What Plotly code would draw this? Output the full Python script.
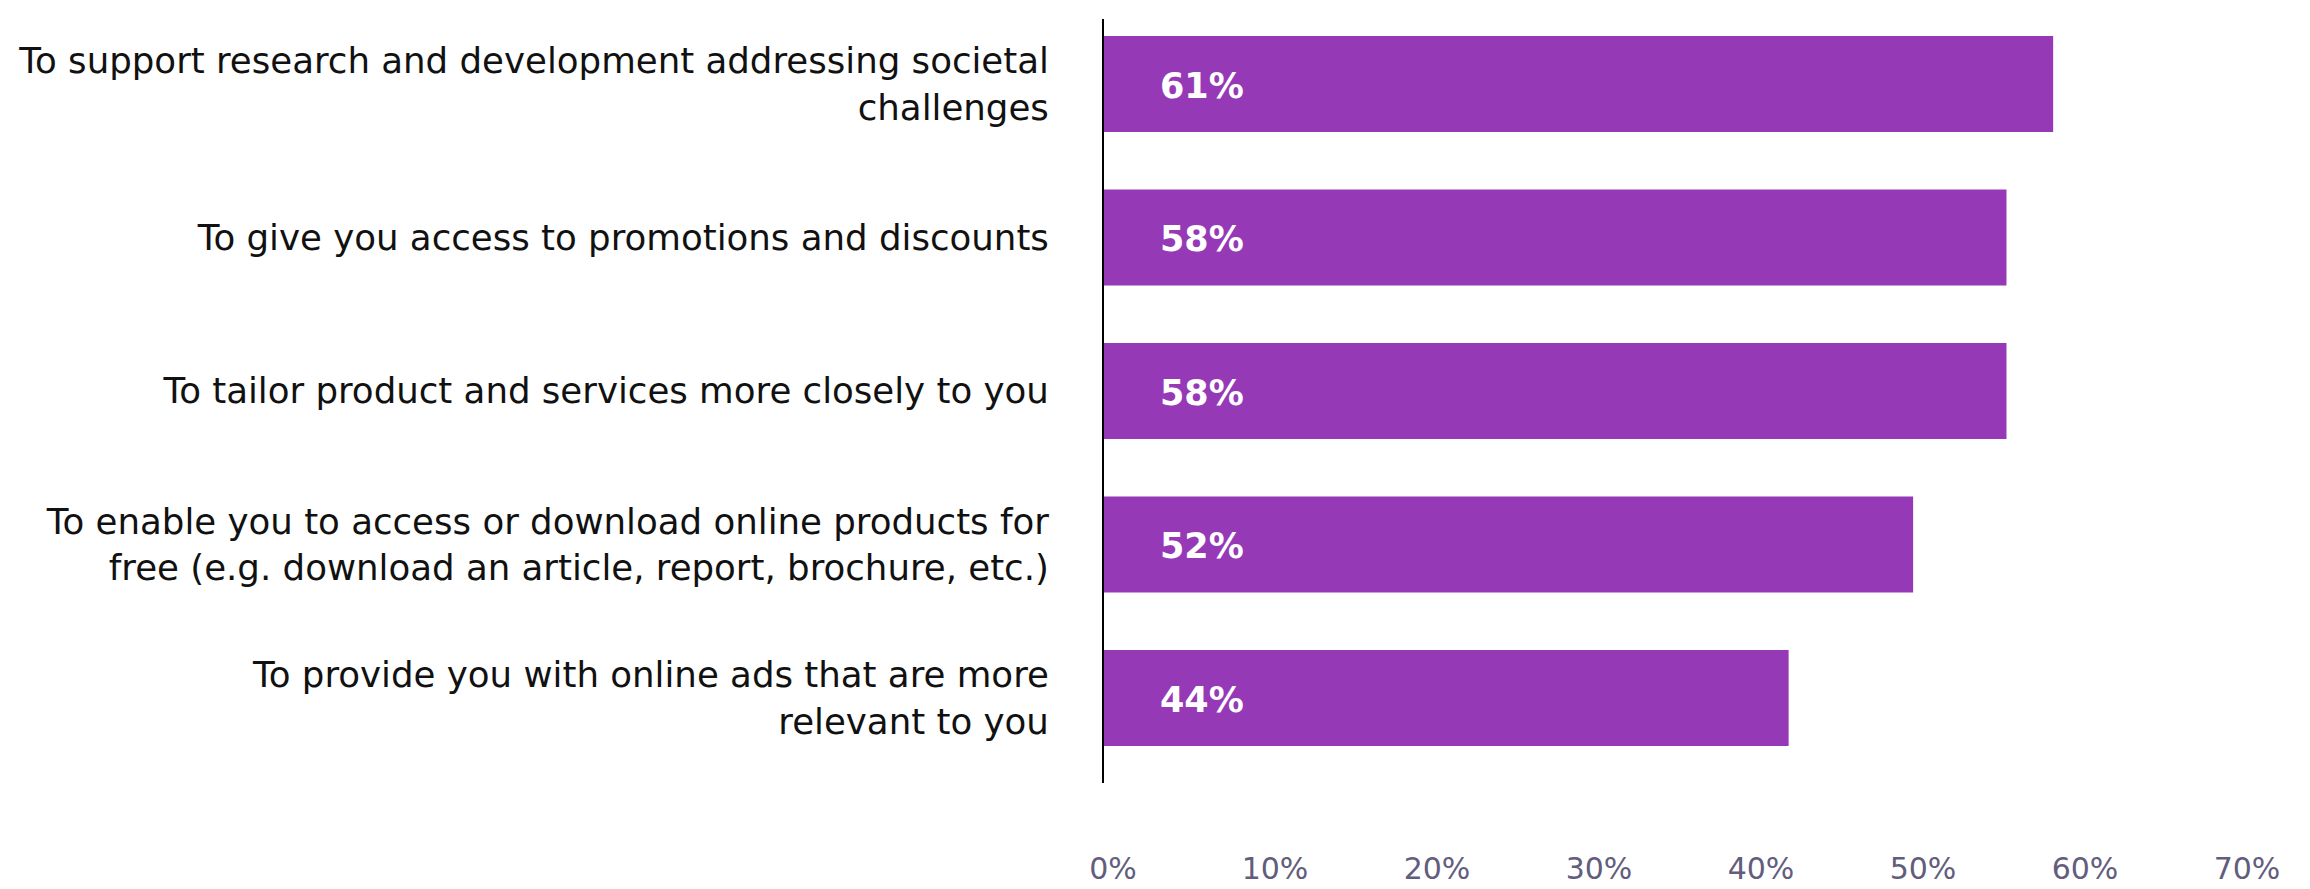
import plotly.graph_objects as go

# Reasons for sharing data, shown top to bottom
categories = [
    "To support research and development addressing societal<br>challenges",
    "To give you access to promotions and discounts",
    "To tailor product and services more closely to you",
    "To enable you to access or download online products for<br>free (e.g. download an article, report, brochure, etc.)",
    "To provide you with online ads that are more<br>relevant to you",
]
values = [61, 58, 58, 52, 44]
tick_values = [0, 10, 20, 30, 40, 50, 60, 70]
tick_labels = ["0%", "10%", "20%", "30%", "40%", "50%", "60%", "70%"]

BAR_COLOR = "#9639B7"
TEXT_FONT = "DejaVu Sans"

fig = go.Figure()
fig.add_trace(go.Bar(
    x=values,
    y=categories,
    orientation="h",
    width=0.625,
    marker=dict(color=BAR_COLOR, line=dict(width=0)),
    hoverinfo="skip",
    showlegend=False,
))
# empty trace so the scale axis below is drawn
fig.add_trace(go.Scatter(x=[], y=[], xaxis="x2", yaxis="y", showlegend=False))

# value labels inside the bars, near the base
for cat, v in zip(categories, values):
    fig.add_annotation(
        x=0, y=cat, xref="x", yref="y",
        text=f"<b>{v}%</b>", showarrow=False,
        xanchor="left", yanchor="middle", xshift=54, yshift=-2,
        font=dict(family=TEXT_FONT, size=35, color="white"),
    )

fig.update_layout(
    width=2310, height=889,
    margin=dict(l=1104, r=39, t=19, b=106, autoexpand=False),
    paper_bgcolor="white", plot_bgcolor="white",
    bargap=0.375,
    xaxis=dict(
        range=[0, 75], showticklabels=False, showgrid=False,
        zeroline=False, showline=False, ticks="", automargin=False,
    ),
    xaxis2=dict(
        overlaying="x", anchor="y", side="bottom",
        range=[-0.556, 71.48], tickvals=tick_values, ticktext=tick_labels,
        showgrid=False, zeroline=False, showline=False, ticks="",
        ticklabelstandoff=65, automargin=False,
        tickfont=dict(family=TEXT_FONT, size=30, color="#625D7D"),
    ),
    yaxis=dict(
        type="category", categoryorder="array", categoryarray=categories,
        range=[4.554, -0.4235],
        showgrid=False, zeroline=False,
        showline=True, linecolor="black", linewidth=2,
        ticks="", ticklabelstandoff=46, automargin=False,
        tickfont=dict(family=TEXT_FONT, size=35.6, color="#111111"),
    ),
)

fig.write_html("out.html")
